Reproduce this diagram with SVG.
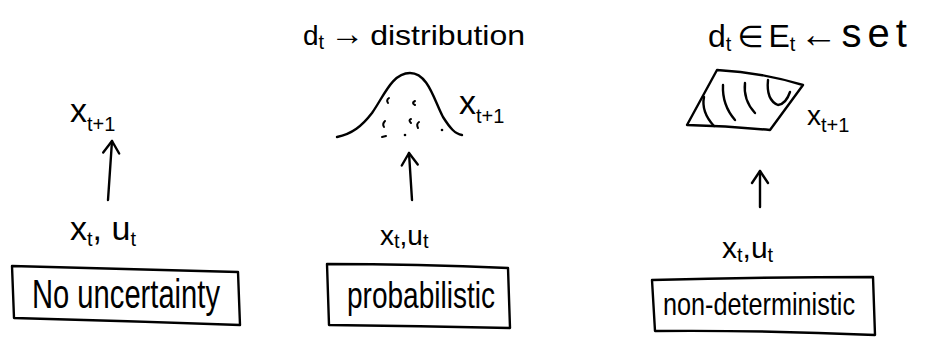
<svg xmlns="http://www.w3.org/2000/svg" width="928" height="339" viewBox="0 0 928 339">
<style>
  .ink { fill: none; stroke: #000; stroke-width: 2.4; stroke-linecap: round; stroke-linejoin: round; }
  .thin { fill: none; stroke: #000; stroke-width: 2; stroke-linecap: round; }
  text { font-family: "Liberation Sans", "DejaVu Sans", sans-serif; fill: #000; }
  .lbl { font-size: 40px; }
  .var { font-size: 34px; }
  .sub { font-size: 20px; }
  .note { font-size: 28px; }
</style>
<defs>
  <marker id="arr" viewBox="0 0 20 20" refX="16" refY="10" markerWidth="20" markerHeight="20" markerUnits="userSpaceOnUse" orient="auto">
    <path d="M4,2 L16,10 L4,18" fill="none" stroke="#000" stroke-width="2.4" stroke-linecap="round" stroke-linejoin="round"/>
  </marker>
</defs>
<rect width="928" height="339" fill="#fff"/>

<!-- Panel 1: No uncertainty -->
<g id="node-xt1-1">
  <text class="var" x="70" y="122">x<tspan class="sub" dy="9">t+1</tspan></text>
</g>
<g id="node-xtut-1">
  <text class="var" x="70" y="240">x<tspan class="sub" dy="6">t</tspan><tspan class="var" dy="-6">, u</tspan><tspan class="sub" dy="6">t</tspan></text>
</g>
<g id="node-box-1">
  <path class="ink" d="M12,266 Q120,269 238,272 L240,325 Q128,321 14,318 Z"/>
  <text class="lbl" x="32" y="308" textLength="188" lengthAdjust="spacingAndGlyphs">No uncertainty</text>
</g>

<!-- Panel 2: probabilistic -->
<g id="node-title-2">
  <text class="note" x="303" y="45">d<tspan class="sub" dy="4">t</tspan><tspan font-size="34" dx="6" dy="-4">→</tspan><tspan class="note" dx="6" textLength="155" lengthAdjust="spacingAndGlyphs">distribution</tspan></text>
</g>
<g id="node-dist-2">
  <path class="ink" d="M337,137 C352,134 362,126 372,113 C384,96 392,73 410,73 C428,73 434,100 443,117 C450,128 455,134 462,135"/>
  <path class="thin" d="M389,98 Q386,100 388,103"/>
  <path class="thin" d="M415,101 Q411,103 415,105"/>
  <path class="thin" d="M385,121 Q382,124 384,127"/>
  <path class="thin" d="M411,119 Q408,120 411,123"/>
  <path class="thin" d="M419,122 Q416,124 418,128"/>
  <path class="thin" d="M382,137 L386,136"/>
  <circle cx="405" cy="135" r="1.3"/>
  <circle cx="442" cy="130" r="1.3"/>
  <text class="var" x="459" y="114">x<tspan class="sub" dy="9">t+1</tspan></text>
</g>
<g id="node-xtut-2">
  <text x="380" y="245" font-size="28">x<tspan class="sub" dy="3">t</tspan><tspan font-size="28" dy="-3">,u</tspan><tspan class="sub" dy="3">t</tspan></text>
</g>
<g id="node-box-2">
  <path class="ink" d="M327,264 Q418,264 508,268 L510,328 Q420,326 329,325 Z"/>
  <text x="347" y="308" font-size="37" textLength="148" lengthAdjust="spacingAndGlyphs">probabilistic</text>
</g>

<!-- Panel 3: non-deterministic -->
<g id="node-title-3">
  <text x="708" y="47" font-size="32">d<tspan class="sub" dy="4">t</tspan><tspan font-size="30" dx="6" dy="-4">∈</tspan><tspan font-size="32" dx="5">E</tspan><tspan class="sub" dy="4">t</tspan><tspan font-size="38" dx="4" dy="-4">←</tspan><tspan font-size="40" dx="4" letter-spacing="6">set</tspan></text>
</g>
<g id="node-set-3">
  <path class="ink" d="M717,70 Q760,72 803,85 L770,130 Q728,126 687,125 Z"/>
  <path class="ink" d="M704,97 Q701,112 714,126"/>
  <path class="ink" d="M723,85 Q722,105 735,120"/>
  <path class="ink" d="M745,83 Q743,100 755,113"/>
  <path class="ink" d="M768,80 Q766,100 778,105 Q786,104 790,92"/>
  <text x="807" y="125" font-size="28">x<tspan class="sub" dy="7">t+1</tspan></text>
</g>
<g id="node-xtut-3">
  <text x="722" y="258" font-size="30">x<tspan class="sub" dy="4">t</tspan><tspan font-size="30" dy="-4">,u</tspan><tspan class="sub" dy="4">t</tspan></text>
</g>
<g id="node-box-3">
  <path class="ink" d="M652,280 Q762,277 873,277 L875,335 Q764,330 655,331 Z"/>
  <text x="663" y="315" font-size="32" textLength="192" lengthAdjust="spacingAndGlyphs">non-deterministic</text>
</g>

<!-- Connectors -->
<g id="connectors">
  <line class="ink" x1="108" y1="200" x2="112" y2="141" marker-end="url(#arr)"/>
  <line class="ink" x1="412" y1="200" x2="409" y2="153" marker-end="url(#arr)"/>
  <line class="ink" x1="760" y1="207" x2="760" y2="171" marker-end="url(#arr)"/>
</g>
</svg>
